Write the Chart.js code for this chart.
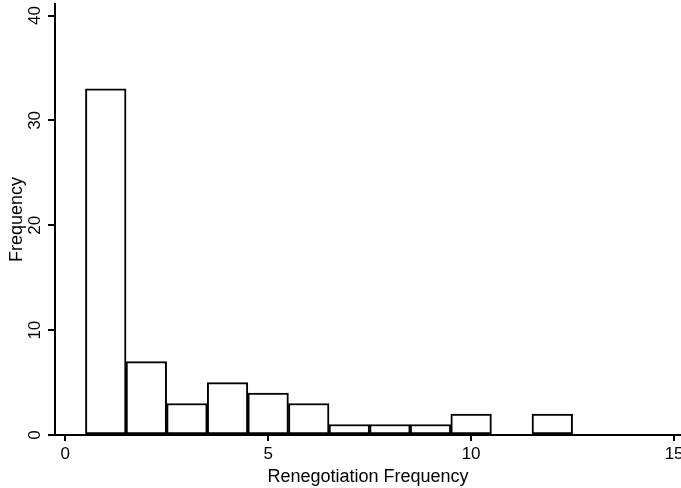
<!DOCTYPE html>
<html>
<head>
<meta charset="utf-8">
<script src="https://cdn.jsdelivr.net/npm/chart.js@4/dist/chart.umd.min.js"></script>
<style>
  html, body { margin: 0; padding: 0; background: #fff; }
  #wrap { width: 681px; height: 488px; position: relative; }
</style>
</head>
<body>
<div id="wrap"><canvas id="c"></canvas></div>
<script>
// histogram data
var bins = [1, 2, 3, 4, 5, 6, 7, 8, 9, 10, 11, 12];
var counts = [33, 7, 3, 5, 4, 3, 1, 1, 1, 2, 0, 2];
var xTicks = [0, 5, 10, 15];
var yTicks = [0, 10, 20, 30, 40];

var FONT = 'Liberation Sans, Arial, Helvetica, sans-serif';
var points = bins.map(function (b, i) { return { x: b, y: counts[i] }; });

// y tick labels are rotated in the original, draw them by hand
var rotatedYTicks = {
    id: 'rotatedYTicks',
    afterDraw: function (chart) {
        var ctx = chart.ctx;
        var ys = chart.scales.y;
        ctx.save();
        ctx.fillStyle = '#000';
        ctx.font = '17px ' + FONT;
        ctx.textAlign = 'center';
        ctx.textBaseline = 'middle';
        yTicks.forEach(function (v) {
            var py = ys.getPixelForValue(v);
            ctx.save();
            ctx.translate(35, py);
            ctx.rotate(-Math.PI / 2);
            ctx.fillText(String(v), 0, 0);
            ctx.restore();
        });
        ctx.restore();
    }
};

var chart = new Chart(document.getElementById('c'), {
    type: 'bar',
    data: {
        datasets: [{
            data: points,
            backgroundColor: '#fff',
            borderColor: '#000',
            borderWidth: 2,
            borderSkipped: false,
            barPercentage: 1,
            categoryPercentage: 1
        }]
    },
    options: {
        responsive: true,
        maintainAspectRatio: false,
        animation: false,
        layout: { padding: { top: 4, right: 0, left: 0, bottom: 0 } },
        plugins: { legend: { display: false }, tooltip: { enabled: false } },
        scales: {
            x: {
                type: 'linear',
                offset: false,
                min: -0.25,
                max: 15.17,
                afterBuildTicks: function (s) { s.ticks = xTicks.map(function (v) { return { value: v }; }); },
                afterFit: function (s) { s.height = 53; s.paddingLeft = 0; s.paddingRight = 0; },
                grid: { offset: false, drawOnChartArea: false, drawTicks: true, tickLength: 6, color: '#000', lineWidth: 2 },
                border: { display: true, color: '#000', width: 2 },
                ticks: { color: '#000', font: { family: FONT, size: 17 }, padding: 3, maxRotation: 0 },
                title: { display: true, text: 'Renegotiation Frequency', color: '#000', font: { family: FONT, size: 18 }, padding: { top: -5, bottom: 0 } }
            },
            y: {
                min: 0,
                max: 41.1,
                afterBuildTicks: function (s) { s.ticks = yTicks.map(function (v) { return { value: v }; }); },
                afterFit: function (s) { s.width = 55; },
                grid: { drawOnChartArea: false, drawTicks: true, tickLength: 7, color: '#000', lineWidth: 2 },
                border: { display: true, color: '#000', width: 2 },
                ticks: { display: false },
                title: { display: true, text: 'Frequency', color: '#000', font: { family: FONT, size: 18 }, padding: 6 }
            }
        }
    },
    plugins: [rotatedYTicks]
});
</script>
</body>
</html>
